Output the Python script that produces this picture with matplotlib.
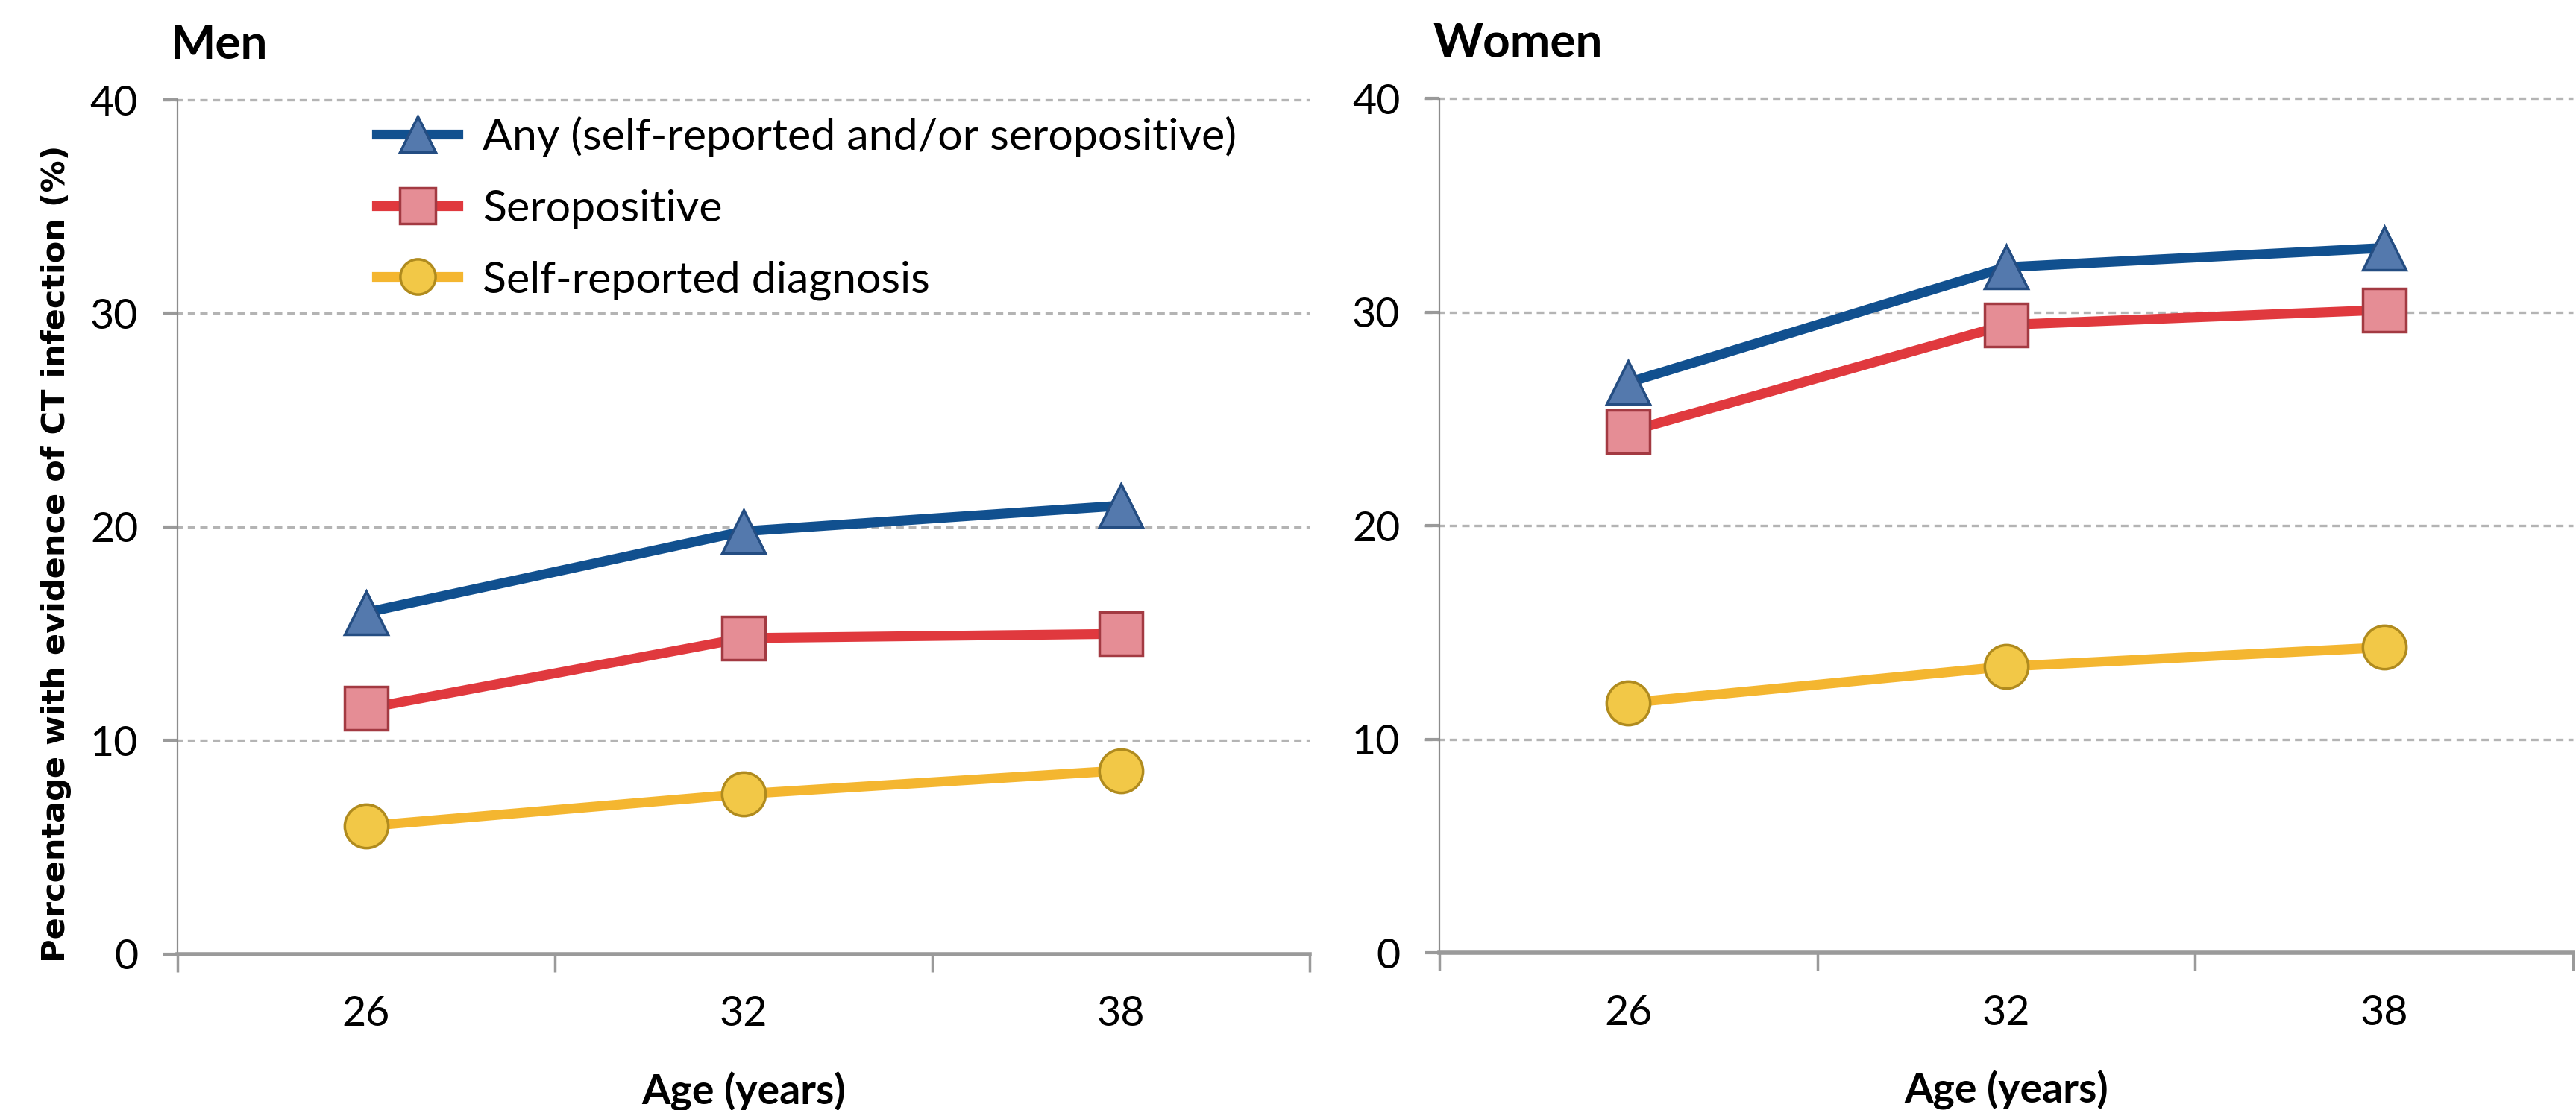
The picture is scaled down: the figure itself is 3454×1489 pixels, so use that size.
import matplotlib.pyplot as plt
from matplotlib.lines import Line2D

ages = ["26", "32", "38"]

men_any = [16.0, 19.8, 21.0]
men_sero = [11.5, 14.8, 15.0]
men_self = [6.0, 7.5, 8.6]

women_any = [26.7, 32.1, 33.0]
women_sero = [24.4, 29.4, 30.1]
women_self = [11.7, 13.4, 14.3]

series_labels = [
    "Any (self-reported and/or seropositive)",
    "Seropositive",
    "Self-reported diagnosis",
]

# line colour, marker, face, edge
styles = [
    ("#11508f", "^", "#5479ad", "#244d82"),
    ("#e0393e", "s", "#e58d95", "#a33a42"),
    ("#f4b630", "o", "#f2c847", "#b08b1e"),
]

TEXT_FONT = ["Lato", "DejaVu Sans"]
TICK_PT = 40
GRID_C = "#b4b4b4"
AXIS_C = "#9a9a9a"


def draw_panel(ax, values, title):
    x = [1, 2, 3]
    for vals, (lc, mk, fc, ec) in zip(values, styles):
        ax.plot(x, vals, color=lc, lw=9.5, solid_capstyle="round", zorder=3)
        ax.plot(x, vals, ls="none", marker=mk, ms=42, mfc=fc, mec=ec,
                mew=2.5, zorder=4)

    ax.set_xlim(0.5, 3.5)
    ax.set_ylim(0, 40)
    ax.set_yticks([0, 10, 20, 30, 40])
    for v in [10, 20, 30, 40]:
        ax.axhline(v, color=GRID_C, lw=2.4, ls=(0, (3, 2)), zorder=1,
                   xmin=-0.013, clip_on=False)

    ax.set_xticks([0.5, 1.5, 2.5, 3.5])
    ax.set_xticklabels([])
    ax.set_xticks([1, 2, 3], minor=True)
    ax.set_xticklabels(ages, minor=True, fontsize=TICK_PT, family=TEXT_FONT)
    ax.tick_params(axis="x", which="major", length=17, width=2.5,
                   color=AXIS_C, direction="out")
    ax.tick_params(axis="x", which="minor", length=0, pad=40)
    ax.tick_params(axis="y", length=14, width=3, color=AXIS_C, pad=24)
    for lab in ax.get_yticklabels():
        lab.set_fontsize(TICK_PT)
        lab.set_family(TEXT_FONT)

    for side in ["top", "right"]:
        ax.spines[side].set_visible(False)
    ax.spines["left"].set_color("#8c8c8c")
    ax.spines["left"].set_linewidth(1.6)
    ax.spines["bottom"].set_color(AXIS_C)
    ax.spines["bottom"].set_linewidth(4)
    ax.spines["bottom"].set_zorder(6)

    ax.set_xlabel("Age (years)", fontsize=TICK_PT, fontweight="bold",
                  family=TEXT_FONT, labelpad=37)
    ax.text(-0.006, 1.048, title, transform=ax.transAxes, fontsize=46,
            fontweight="bold", family=TEXT_FONT, ha="left", va="baseline")


fig = plt.figure(figsize=(34.54, 14.89), dpi=100)
ax_m = fig.add_axes([0.0689, 0.1404, 0.4395, 0.7696])
ax_w = fig.add_axes([0.5588, 0.1417, 0.4400, 0.7696])

draw_panel(ax_m, [men_any, men_sero, men_self], "Men")
draw_panel(ax_w, [women_any, women_sero, women_self], "Women")

ax_m.set_ylabel("Percentage with evidence of CT infection (%)", fontsize=31,
                fontweight="bold", family="DejaVu Sans", labelpad=18)
ax_m.yaxis.label.set_y(0.469)

handles = [
    Line2D([], [], color=lc, lw=9.5, marker=mk, ms=34, mfc=fc, mec=ec, mew=2.5)
    for lc, mk, fc, ec in styles
]
ax_m.legend(handles, series_labels, loc="upper left",
            bbox_to_anchor=(0.176, 0.981), frameon=False, borderpad=0,
            borderaxespad=0, handlelength=1.85, handletextpad=0.55,
            labelspacing=0.72, prop={"family": TEXT_FONT, "size": 42.5})

fig.savefig("out.png", dpi=100)
